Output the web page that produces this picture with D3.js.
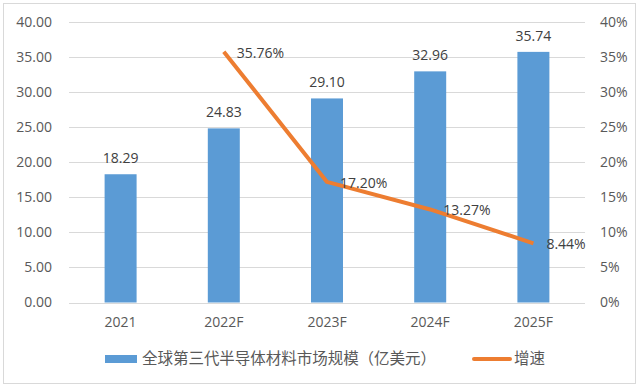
<!DOCTYPE html>
<html>
<head>
<meta charset="utf-8">
<script src="https://cdn.jsdelivr.net/npm/d3@7"></script>
<style>
  body { margin: 0; background: #fff; }
  text { font-family: "Open Sans", "Noto Sans CJK SC", sans-serif; }
</style>
</head>
<body>
<div id="plot"></div>
<script>
    // Data
    const years = ['2021', '2022F', '2023F', '2024F', '2025F'];
    const marketSize = [18.29, 24.83, 29.10, 32.96, 35.74];
    const growth = [null, 35.76, 17.20, 13.27, 8.44];
    const leftTicks = [0, 5, 10, 15, 20, 25, 30, 35, 40];
    const rightTicks = [0, 5, 10, 15, 20, 25, 30, 35, 40];
    const barName = '全球第三代半导体材料市场规模（亿美元）';
    const lineName = '增速';

    const svgWidth = 642;
    const svgHeight = 389;
    const margin = { top: 22, right: 57, bottom: 86.5, left: 69 };
    const blue = '#5B9BD5', orange = '#ED7D31';

    const svg = d3.select('#plot')
        .append('svg')
        .attr('width', svgWidth)
        .attr('height', svgHeight);

    // outer frame
    svg.append('rect')
        .attr('x', 3.5).attr('y', 3.5)
        .attr('width', 632).attr('height', 380)
        .attr('fill', 'none')
        .attr('stroke', '#D9D9D9');

    const xScale = d3.scaleBand()
        .domain(years)
        .range([margin.left, svgWidth - margin.right])
        .paddingInner(0.69)
        .paddingOuter(0.345);

    const yScale = d3.scaleLinear()
        .domain([0, 40])
        .range([svgHeight - margin.bottom, margin.top]);

    const yRight = d3.scaleLinear()
        .domain([0, 40])
        .range([svgHeight - margin.bottom, margin.top]);

    // gridlines
    svg.append('g')
        .selectAll('line')
        .data(leftTicks)
        .enter()
        .append('line')
        .attr('x1', margin.left)
        .attr('x2', svgWidth - margin.right)
        .attr('y1', d => Math.round(yScale(d)) + 0.5)
        .attr('y2', d => Math.round(yScale(d)) + 0.5)
        .attr('stroke', '#D9D9D9')
        .attr('stroke-width', 1);

    // left axis
    const yAxis = svg.append('g')
        .attr('transform', `translate(${margin.left}, 0)`)
        .call(d3.axisLeft(yScale).tickValues(leftTicks).tickFormat(d3.format('.2f')).tickSize(0).tickPadding(17));
    yAxis.select('.domain').remove();
    yAxis.selectAll('text').attr('fill', '#595959').style('font-size', '14px')
        .style('font-family', '"Open Sans", sans-serif');

    // right axis
    const yAxisR = svg.append('g')
        .attr('transform', `translate(${svgWidth - margin.right}, 0)`)
        .call(d3.axisRight(yRight).tickValues(rightTicks).tickFormat(d => d + '%').tickSize(0).tickPadding(15));
    yAxisR.select('.domain').remove();
    yAxisR.selectAll('text').attr('fill', '#595959').style('font-size', '14px')
        .style('font-family', '"Open Sans", sans-serif');

    // x axis
    const xAxis = svg.append('g')
        .attr('transform', `translate(0, ${svgHeight - margin.bottom})`)
        .call(d3.axisBottom(xScale).tickSize(0).tickPadding(15));
    xAxis.select('.domain').remove();
    xAxis.selectAll('text').attr('fill', '#595959').style('font-size', '14px')
        .style('font-family', '"Open Sans", sans-serif');

    // bars
    svg.selectAll('.bar')
        .data(marketSize)
        .enter()
        .append('rect')
        .attr('class', 'bar')
        .attr('x', (d, i) => xScale(years[i]))
        .attr('y', d => yScale(d))
        .attr('width', xScale.bandwidth())
        .attr('height', d => yScale(0) - yScale(d))
        .attr('fill', blue);

    svg.selectAll('.bar-label')
        .data(marketSize)
        .enter()
        .append('text')
        .attr('class', 'bar-label')
        .text(d => d.toFixed(2))
        .attr('x', (d, i) => xScale(years[i]) + xScale.bandwidth() / 2)
        .attr('y', d => yScale(d) - 11)
        .attr('text-anchor', 'middle')
        .attr('fill', '#404040')
        .style('font-size', '14px');

    // growth line
    const pts = growth.map((g, i) => ({ x: xScale(years[i]) + xScale.bandwidth() / 2, g: g }))
        .filter(d => d.g !== null);

    const line = d3.line()
        .x(d => d.x)
        .y(d => yRight(d.g));

    svg.append('path')
        .datum(pts)
        .attr('d', line)
        .attr('fill', 'none')
        .attr('stroke', orange)
        .attr('stroke-width', 4)
        .attr('stroke-linejoin', 'round');

    svg.selectAll('.line-label')
        .data(pts)
        .enter()
        .append('text')
        .attr('class', 'line-label')
        .text(d => d.g.toFixed(2) + '%')
        .attr('x', d => d.x + 13)
        .attr('y', d => yRight(d.g) + 1)
        .attr('dy', '0.35em')
        .attr('fill', '#404040')
        .style('font-size', '14px');

    // legend
    const legend = svg.append('g');
    legend.append('rect')
        .attr('x', 105).attr('y', 355)
        .attr('width', 32).attr('height', 8)
        .attr('fill', blue);
    legend.append('text')
        .attr('x', 142).attr('y', 359)
        .attr('dy', '0.35em')
        .attr('textLength', 294)
        .attr('lengthAdjust', 'spacing')
        .attr('fill', '#595959')
        .style('font-size', '15.5px')
        .style('font-family', '"Noto Sans CJK SC", sans-serif')
        .text(barName);
    legend.append('line')
        .attr('x1', 474).attr('x2', 510)
        .attr('y1', 359).attr('y2', 359)
        .attr('stroke', orange)
        .attr('stroke-width', 4)
        .attr('stroke-linecap', 'round');
    legend.append('text')
        .attr('x', 514).attr('y', 359)
        .attr('dy', '0.35em')
        .attr('fill', '#595959')
        .style('font-size', '15.5px')
        .style('font-family', '"Noto Sans CJK SC", sans-serif')
        .text(lineName);
</script>
</body>
</html>
